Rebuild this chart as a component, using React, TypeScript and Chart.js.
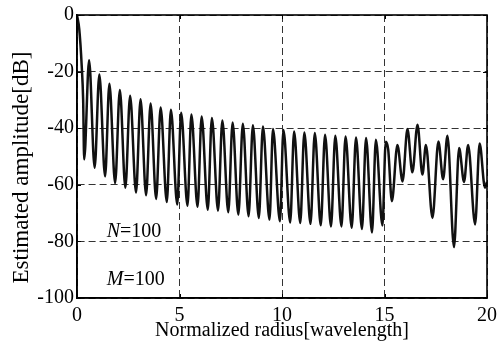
import React, { useEffect, useRef } from "react";
import { Chart, registerables } from "chart.js";

Chart.register(...registerables);

// Normalized radius [wavelength] of successive maxima / minima
const radius = [
  0, 0.11, 0.23, 0.3, 0.35,
  0.59, 0.86, 1.09, 1.37, 1.58, 1.86, 2.09, 2.36, 2.59, 2.88,
  3.1, 3.37, 3.59, 3.86, 4.08, 4.38, 4.58, 4.89, 5.08, 5.39,
  5.58, 5.88, 6.08, 6.38, 6.58, 6.88, 7.09, 7.38, 7.59, 7.87,
  8.09, 8.37, 8.58, 8.87, 9.07, 9.39, 9.56, 9.9, 10.07, 10.4,
  10.59, 10.89, 11.09, 11.39, 11.6, 11.89, 12.1, 12.39, 12.6, 12.9,
  13.1, 13.4, 13.61, 13.9, 14.1, 14.39, 14.58, 14.9, 15.06, 15.18,
  15.36, 15.63, 15.88, 16.12, 16.36, 16.61, 16.85, 17.02, 17.34, 17.63,
  17.86, 18.07, 18.39, 18.64, 18.88, 19.08, 19.42, 19.64, 19.9, 20,
];

// Estimated amplitude [dB] at those radii
const amplitude = [
  0, -5, -18, -30, -51,
  -16, -54, -21, -57, -24.3, -59.4, -26.5, -61, -28.5, -62.7,
  -29.8, -63.7, -31.3, -65, -32.7, -66.1, -33.5, -67, -34.5, -67.4,
  -35.2, -67.8, -35.9, -68.8, -36.4, -69.1, -37.3, -69.7, -38, -70.5,
  -38.4, -71.1, -39, -71.7, -39.4, -72.3, -40.3, -72.9, -40.6, -73.3,
  -41.2, -73.5, -41.5, -73.8, -41.7, -74.3, -42.3, -74.7, -42.7, -74.7,
  -42.9, -75.2, -43.3, -75.6, -43.5, -76.8, -44.1, -74.4, -44.8, -47.5,
  -65.8, -45.9, -58.8, -40.3, -55.6, -38.8, -56.4, -45.9, -71.7, -44.7,
  -58, -42.7, -82, -47, -59, -45.9, -74, -45.4, -61, -59,
];

const xTickValues = [0, 5, 10, 15, 20];
const yTickValues = [0, -20, -40, -60, -80, -100];
const xAxisTitle = "Normalized radius[wavelength]";
const yAxisTitle = "Estimated amplitude[dB]";
const paramNames = ["N", "M"];
const paramValues = ["100", "100"];

const SERIF = "'Liberation Serif', 'Times New Roman', Times, serif";

export default function App() {
  const ref = useRef<HTMLCanvasElement>(null);

  useEffect(() => {
    const canvas = ref.current;
    if (!canvas) return;

    const points = radius.map((x, i) => ({ x, y: amplitude[i] }));

    const framePlugin = {
      id: "frame",
      afterDatasetsDraw(chart: any) {
        const { ctx, chartArea: a, scales } = chart;
        ctx.save();
        ctx.strokeStyle = "#000";
        ctx.lineWidth = 1;
        ctx.setLineDash([]);
        // inner tick marks
        xTickValues.forEach((v) => {
          const px = Math.round(scales.x.getPixelForValue(v)) + 0.5;
          ctx.beginPath();
          ctx.moveTo(px, a.bottom);
          ctx.lineTo(px, a.bottom - 4);
          ctx.moveTo(px, a.top);
          ctx.lineTo(px, a.top + 4);
          ctx.stroke();
        });
        yTickValues.forEach((v) => {
          const py = Math.round(scales.y.getPixelForValue(v)) + 0.5;
          ctx.beginPath();
          ctx.moveTo(a.left, py);
          ctx.lineTo(a.left + 4, py);
          ctx.moveTo(a.right, py);
          ctx.lineTo(a.right - 4, py);
          ctx.stroke();
        });
        ctx.lineWidth = 1.6;
        ctx.strokeRect(a.left, a.top, a.right - a.left, a.bottom - a.top);
        ctx.restore();
      },
    };

    const textPlugin = {
      id: "texts",
      afterDraw(chart: any) {
        const { ctx, scales, chartArea: a } = chart;
        // rotated y-axis title
        ctx.save();
        ctx.fillStyle = "#000";
        ctx.font = `23px ${SERIF}`;
        ctx.textAlign = "center";
        ctx.textBaseline = "middle";
        ctx.translate(a.left - 55, (a.top + a.bottom) / 2 + 11);
        ctx.rotate(-Math.PI / 2);
        ctx.fillText(yAxisTitle, 0, 0);
        ctx.restore();

        // N / M parameter annotations
        const anchorX = 1.45;
        const anchorY = [-78.5, -95.3];
        paramNames.forEach((name, i) => {
          const px = scales.x.getPixelForValue(anchorX);
          const py = scales.y.getPixelForValue(anchorY[i]);
          ctx.save();
          ctx.fillStyle = "#000";
          ctx.textBaseline = "alphabetic";
          ctx.textAlign = "left";
          ctx.font = `italic 20px ${SERIF}`;
          ctx.fillText(name, px, py);
          const w = ctx.measureText(name).width;
          ctx.font = `20px ${SERIF}`;
          ctx.fillText("=" + paramValues[i], px + w, py);
          ctx.restore();
        });
      },
    };

    const chart = new Chart(canvas, {
      type: "line",
      data: {
        datasets: [
          {
            data: points,
            borderColor: "#111",
            borderWidth: 2.5,
            pointRadius: 0,
            fill: false,
            cubicInterpolationMode: "monotone",
          },
        ],
      },
      options: {
        animation: false,
        responsive: false,
        devicePixelRatio: 1,
        parsing: false as any,
        layout: { padding: { left: 0, right: 15, top: 15, bottom: 0 } },
        plugins: {
          legend: { display: false },
          tooltip: { enabled: false },
        },
        scales: {
          x: {
            type: "linear",
            min: 0,
            max: 20,
            afterBuildTicks: (scale: any) => {
              scale.ticks = xTickValues.map((v) => ({ value: v }));
            },
            afterFit: (scale: any) => {
              scale.height = 49;
            },
            ticks: {
              color: "#000",
              font: { family: SERIF, size: 20 },
              padding: 6,
              maxRotation: 0,
              autoSkip: false,
              callback: (v: any) => String(v),
            },
            grid: {
              color: "#333",
              lineWidth: 1,
              drawTicks: false,
            },
            border: { display: true, color: "#000", width: 1.6, dash: [7, 4] },
            title: {
              display: true,
              text: xAxisTitle,
              color: "#000",
              font: { family: SERIF, size: 20 },
              padding: { top: 0, bottom: 4 },
            },
          },
          y: {
            type: "linear",
            min: -100,
            max: 0,
            afterBuildTicks: (scale: any) => {
              scale.ticks = yTickValues.map((v) => ({ value: v }));
            },
            afterFit: (scale: any) => {
              scale.width = 77;
            },
            ticks: {
              color: "#000",
              font: { family: SERIF, size: 20 },
              padding: 3,
              autoSkip: false,
              callback: (v: any) => String(v),
            },
            grid: {
              color: "#333",
              lineWidth: 1,
              drawTicks: false,
            },
            border: { display: true, color: "#000", width: 1.6, dash: [7, 4] },
            title: { display: false },
          },
        },
      },
      plugins: [framePlugin, textPlugin],
    } as any);

    return () => chart.destroy();
  }, []);

  return (
    <div style={{ position: "fixed", left: 0, top: 0, width: 503, height: 347, background: "#fff" }}>
      <canvas ref={ref} width={503} height={347} style={{ width: 503, height: 347, display: "block" }} />
    </div>
  );
}
